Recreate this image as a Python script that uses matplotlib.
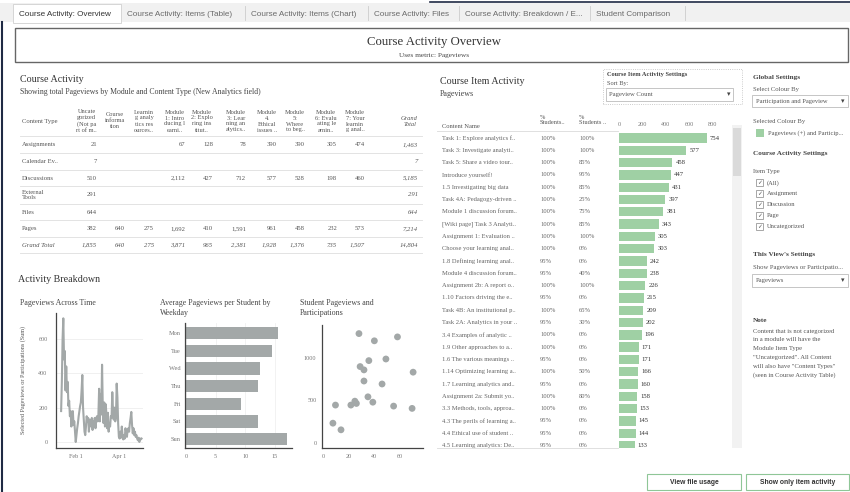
import numpy as np
import matplotlib

matplotlib.use("Agg")
import matplotlib.pyplot as plt
from matplotlib.patches import Rectangle
from matplotlib.lines import Line2D

plt.rcParams["font.family"] = ["Liberation Serif", "DejaVu Sans"]

# ---------------- data ----------------
tab_names = ["Course Activity: Overview", "Course Activity: Items (Table)",
             "Course Activity: Items (Chart)", "Course Activity: Files",
             "Course Activity: Breakdown / E...", "Student Comparison"]

module_headers = ["Uncate\ngorized\n(Not pa\nrt of m..", "Course\ninforma\ntion",
                  "Learnin\ng analy\ntics res\nources..", "Module\n1: Intro\nducing l\nearni..",
                  "Module\n2: Explo\nring ins\ntitut..", "Module\n3: Lear\nning an\nalytics..",
                  "Module\n4.\nEthical\nissues ..", "Module\n5:\nWhere\nto beg..",
                  "Module\n6: Evalu\nating le\narnin..", "Module\n7: Your\nlearnin\ng anal..",
                  "Grand\nTotal"]
content_types = ["Assignments", "Calendar Ev..", "Discussions", "External\nTools",
                 "Files", "Pages", "Grand Total"]
assignments = [21, None, None, 67, 128, 78, 390, 390, 305, 474, 1463]
calendar_events = [7, None, None, None, None, None, None, None, None, None, 7]
discussions = [510, None, None, 2112, 427, 712, 577, 528, 198, 460, 5185]
external_tools = [291, None, None, None, None, None, None, None, None, None, 291]
files = [644, None, None, None, None, None, None, None, None, None, 644]
pages = [382, 640, 275, 1692, 410, 1591, 961, 458, 232, 573, 7214]
grand_total = [1855, 640, 275, 3871, 965, 2381, 1928, 1376, 735, 1507, 14804]

# daily pageviews from 12 Jan
daily_pageviews = [180, 350, 600, 720, 480, 530, 300, 440, 290, 350, 210, 240, 150, 180, 90,
                   170, 180, 100, 120, 60, 0, 40, 80, 110, 150, 180, 210, 230, 300, 390,
                   200, 130, 60, 40, 90, 150, 120, 140, 60, 130, 110, 90, 140, 70, 120,
                   100, 140, 80, 130, 150, 120, 160, 310, 120, 280, 160, 450, 200, 110, 230,
                   90, 220, 160, 80, 170, 60, 110, 90, 150, 140, 290, 180, 130, 200, 120,
                   140, 340, 260, 110, 30, 20, 60, 25, 90, 40, 15, 40, 20, 80, 60,
                   30, 70, 80, 60, 110, 140, 175, 100, 50, 80, 40, 60, 30, 40, 20,
                   10, 25, 0, 20, 15, 20]
time_start = np.datetime64("2021-01-12")
time_tick_dates = [np.datetime64("2021-02-01"), np.datetime64("2021-04-01")]
time_tick_labels = ["Feb 1", "Apr 1"]

weekdays = ["Mon", "Tue", "Wed", "Thu", "Fri", "Sat", "Sun"]
weekday_avg = [15.5, 14.5, 12.5, 12.1, 9.3, 12.1, 17.0]

student_participations = [7.7, 14, 9.7, 21.7, 24.8, 26, 28, 28.9, 31.9, 31.9,
                          35, 35.7, 38.8, 40, 46, 49, 55, 58, 69.4, 70.2]
student_pageviews = [233, 155, 446, 446, 492, 465, 1287, 899, 860, 729,
                     543, 969, 480, 1202, 694, 988, 434, 1248, 407, 833]

item_names = ["Task 1: Explore analytics f..", "Task 3: Investigate analyti..",
              "Task 5: Share a video tour..", "Introduce yourself!",
              "1.5 Investigating big data", "Task 4A: Pedagogy-driven ..",
              "Module 1 discussion forum..", "[Wiki page] Task 3 Analyti..",
              "Assignment 1: Evaluation ..", "Choose your learning anal..",
              "1.8 Defining learning anal..", "Module 4 discussion forum..",
              "Assignment 2b: A report o..", "1.10 Factors driving the e..",
              "Task 4B: An institutional p..", "Task 2A: Analytics in your ..",
              "3.4 Examples of analytic ..", "1.9 Other approaches to a..",
              "1.6 The various meanings ..", "1.14 Optimizing learning a..",
              "1.7 Learning analytics and..", "Assignment 2a: Submit yo..",
              "3.3 Methods, tools, approa..", "4.3 The perils of learning a..",
              "4.4 Ethical use of student ..", "4.5 Learning analytics: De.."]
pct_viewed = [100, 100, 100, 100, 100, 100, 100, 100, 100, 100, 95, 95, 100,
              95, 100, 95, 100, 100, 95, 100, 95, 100, 100, 95, 95, 95]
pct_participated = [100, 100, 85, 95, 85, 25, 75, 85, 100, 0, 0, 40, 100,
                    0, 65, 30, 0, 0, 0, 50, 0, 80, 0, 0, 0, 0]
item_pageviews = [754, 577, 458, 447, 431, 397, 381, 343, 305, 303, 242, 238, 226,
                  215, 209, 202, 196, 171, 171, 166, 160, 158, 153, 145, 144, 133]

item_types = ["(All)", "Assignment", "Discussion", "Page", "Uncategorized"]
note_lines = ["Content that is not categorized", "in a module will have the",
              "Module Item Type", "\"Uncategorized\". All Content",
              "will also have \"Content Types\"", "(seen in Course Activity Table)"]

# ---------------- helpers (pixel layout) ----------------
W, H = 850, 492
GREY = "#a3a8a8"
GREEN = "#9fd0a4"
TXT = "#555555"
fig = plt.figure(figsize=(W / 100, H / 100), dpi=100)


def fx(x):
    return x / W


def fy(y):
    return 1 - y / H


def ptext(x, y, s, **kw):
    kw.setdefault("va", "center")
    kw.setdefault("color", TXT)
    return fig.text(fx(x), fy(y), s, **kw)


def prect(x0, y0, x1, y1, **kw):
    fig.add_artist(Rectangle((fx(x0), fy(y1)), (x1 - x0) / W, (y1 - y0) / H,
                             transform=fig.transFigure, **kw))


def pline(x0, y0, x1, y1, **kw):
    fig.add_artist(Line2D([fx(x0), fx(x1)], [fy(y0), fy(y1)], transform=fig.transFigure, **kw))


def add_ax(x0, y0, x1, y1):
    return fig.add_axes([fx(x0), fy(y1), (x1 - x0) / W, (y1 - y0) / H])


def style_axis(ax):
    for s in ["top", "right"]:
        ax.spines[s].set_visible(False)
    for s in ["left", "bottom"]:
        ax.spines[s].set_color("#444444")
        ax.spines[s].set_linewidth(0.9)
    ax.tick_params(length=0, labelsize=4.4, labelcolor="#777777")


# ---------------- tabs & title ----------------
prect(0, 3, 850, 22, facecolor="#f1f1f1", edgecolor="none")
pline(430, 1.5, 850, 1.5, color="#1f2a44", lw=1.2)
pline(1.5, 22, 1.5, 492, color="#1f2a44", lw=1.5)
tab_edges = [13, 121, 245, 368, 459, 590, 685]
for i, name in enumerate(tab_names):
    if i == 0:
        prect(tab_edges[0], 4, tab_edges[1], 23, facecolor="white", edgecolor="#d0d0d0", lw=0.6)
    else:
        pline(tab_edges[i + 1], 6, tab_edges[i + 1], 20, color="#cccccc", lw=0.6)
    ptext(tab_edges[i] + 6, 14.5, name, family="Liberation Sans", fontsize=5.9,
          color="#333333" if i == 0 else "#6a6a6a")

prect(15, 28, 848, 62, facecolor="white", edgecolor="#666666", lw=1)
ptext(434, 42, "Course Activity Overview", ha="center", fontsize=9.2, color="#333333")
ptext(434, 55, "Uses metric: Pageviews", ha="center", fontsize=5.2, color="#444444")

# ---------------- course activity table ----------------
ptext(20, 80, "Course Activity", fontsize=7.2, color="#333333")
ptext(20, 92, "Showing total Pageviews by Module and Content Type (New Analytics field)",
      fontsize=5.6, color="#444444")
col_x = [97, 125, 154, 185, 213, 246, 277, 305, 337, 365, 418]
ptext(22, 121, "Content Type", fontsize=4.8)
for cx, head in zip(col_x, module_headers):
    italic = head.startswith("Grand")
    ptext(cx, 121, head, ha="right", multialignment="center", fontsize=4.6,
          linespacing=1.25, style="italic" if italic else "normal")

table_rows = [assignments, calendar_events, discussions, external_tools, files, pages, grand_total]
row_y = [144.5, 161.5, 178, 195, 212, 228.5, 245]
for y in [136, 153, 170, 186, 204, 220, 237, 253]:
    pline(20, y, 422, y, color="#e3e3e3", lw=0.7)
for r, (label, vals) in enumerate(zip(content_types, table_rows)):
    last_row = r == len(table_rows) - 1
    ptext(22, row_y[r], label, fontsize=4.8, linespacing=1.2,
          style="italic" if last_row else "normal")
    for c, v in enumerate(vals):
        if v is None:
            continue
        italic = last_row or c == len(vals) - 1
        ptext(col_x[c], row_y[r], f"{v:,}", ha="right", fontsize=4.8,
              style="italic" if italic else "normal")

# ---------------- activity breakdown ----------------
ptext(18, 279, "Activity Breakdown", fontsize=7.2, color="#333333")
ptext(20, 303, "Pageviews Across Time", fontsize=5.7, color="#444444")
ptext(160, 308, "Average Pageviews per Student by\nWeekday", fontsize=5.7,
      color="#444444", linespacing=1.3)
ptext(300, 308, "Student Pageviews and\nParticipations", fontsize=5.7,
      color="#444444", linespacing=1.3)

ax_t = add_ax(56, 313, 143, 448)
dates = time_start + np.arange(len(daily_pageviews))
ax_t.plot(dates, daily_pageviews, color=GREY, lw=1.5, solid_joinstyle="round")
ax_t.set_ylim(-35, 751)
ax_t.set_xlim(time_tick_dates[0] - np.timedelta64(27, "D"),
              time_tick_dates[1] + np.timedelta64(33, "D"))
ax_t.set_yticks([0, 200, 400, 600])
ax_t.set_xticks(time_tick_dates)
ax_t.set_xticklabels(time_tick_labels)
ax_t.grid(axis="y", color="#eeeeee", lw=0.6)
ax_t.set_axisbelow(True)
style_axis(ax_t)
ax_t.tick_params(axis="y", pad=6)
ax_t.tick_params(axis="x", pad=4)
ptext(23, 380, "Selected Pageviews or Participations (Sum)", ha="center", rotation=90,
      fontsize=4.4, color="#555555")

ax_w = add_ax(185, 323, 292, 448)
ax_w.barh(range(len(weekdays)), weekday_avg, height=0.7, color=GREY)
ax_w.set_ylim(6.51, -0.57)
ax_w.set_xlim(-0.17, 17.9)
ax_w.set_yticks(range(len(weekdays)))
ax_w.set_yticklabels(weekdays)
ax_w.set_xticks([0, 5, 10, 15])
ax_w.grid(axis="x", color="#f0f0f0", lw=0.6)
ax_w.set_axisbelow(True)
style_axis(ax_w)
ax_w.tick_params(axis="y", pad=3, labelsize=4.6)
ax_w.tick_params(axis="x", pad=4)

ax_s = add_ax(322, 325, 423, 448)
ax_s.scatter(student_participations, student_pageviews, s=24, color=GREY, edgecolors="none")
ax_s.set_xlim(-0.8, 77.9)
ax_s.set_ylim(-59, 1388)
ax_s.set_xticks([0, 20, 40, 60])
ax_s.set_yticks([0, 500, 1000])
style_axis(ax_s)
ax_s.tick_params(axis="y", pad=4)
ax_s.tick_params(axis="x", pad=4)

# ---------------- course item activity ----------------
ptext(440, 81, "Course Item Activity", fontsize=7.2, color="#333333")
ptext(440, 94, "Pageviews", fontsize=5.8, color="#444444")
prect(603, 69, 742, 104, facecolor="none", edgecolor="#bbbbbb", lw=0.6, linestyle=":")
ptext(607, 74.5, "Course Item Activity Settings", fontsize=4.6, weight="bold", color="#444444")
ptext(607, 83, "Sort By:", fontsize=4.6)
prect(606, 88, 733, 101, facecolor="white", edgecolor="#bbbbbb", lw=0.6)
ptext(609, 94.5, "Pageview Count", fontsize=4.8)
ptext(729, 94.5, "▾", ha="center", fontsize=5, family="DejaVu Sans", color="#444444")

ptext(442, 127, "Content Name", fontsize=4.7)
ptext(540, 120, "%\nStudents..", fontsize=4.6, linespacing=1.2)
ptext(579, 120, "%\nStudents ..", fontsize=4.6, linespacing=1.2)
pline(437, 131, 618, 131, color="#e0e0e0", lw=0.7)
pline(437, 448, 618, 448, color="#e0e0e0", lw=0.7)

ylim_items = (25.2, -0.57)
ax_n = add_ax(437, 131, 618, 448)
ax_n.set_xlim(437, 618)
ax_n.set_ylim(*ylim_items)
ax_n.axis("off")
for i, name in enumerate(item_names):
    ax_n.text(442, i, name, va="center", fontsize=4.7, color="#666666", clip_on=True)
    ax_n.text(540, i, f"{pct_viewed[i]}%", va="center", fontsize=4.7, color="#666666", clip_on=True)
    ax_n.text(579, i, f"{pct_participated[i]}%", va="center", fontsize=4.7, color="#666666",
              clip_on=True)

ax_b = add_ax(619, 131, 730, 448)
ax_b.barh(range(len(item_pageviews)), item_pageviews, height=0.76, color=GREEN)
ax_b.set_xlim(0, 951)
ax_b.set_ylim(*ylim_items)
for i, v in enumerate(item_pageviews):
    ax_b.text(v + 25, i, str(v), va="center", fontsize=4.8, color="#333333", clip_on=True)
ax_b.xaxis.tick_top()
ax_b.set_xticks([0, 200, 400, 600, 800])
ax_b.set_yticks([])
for s in ax_b.spines.values():
    s.set_visible(False)
ax_b.tick_params(length=0, labelsize=4.4, labelcolor="#777777", pad=3)

# scrollbar
prect(732, 125, 742, 448, facecolor="#f2f2f2", edgecolor="none")
prect(733, 128, 741, 176, facecolor="#dadada", edgecolor="none")

# ---------------- right settings panel ----------------
ptext(753, 77, "Global Settings", fontsize=5.2, weight="bold", color="#444444")
ptext(753, 89.5, "Select Colour By", fontsize=4.8)
prect(752, 95, 848, 107, facecolor="white", edgecolor="#bbbbbb", lw=0.6)
ptext(756, 101, "Participation and Pageview", fontsize=4.7)
ptext(843, 101, "▾", ha="center", fontsize=5, family="DejaVu Sans", color="#444444")
ptext(753, 121, "Selected Colour By", fontsize=4.8)
prect(756, 129, 764, 137, facecolor=GREEN, edgecolor="none")
ptext(768, 133, "Pageviews (+) and Particip...", fontsize=4.7)
ptext(753, 154, "Course Activity Settings", fontsize=5.2, weight="bold", color="#444444")
ptext(753, 171, "Item Type", fontsize=4.8)
for k, label in enumerate(item_types):
    yk = 182.7 + 11 * k
    prect(756, yk - 3.5, 763, yk + 3.5, facecolor="white", edgecolor="#999999", lw=0.6)
    ptext(759.5, yk, "✓", ha="center", fontsize=4.2, family="DejaVu Sans", color="#555555")
    ptext(767, yk, label, fontsize=4.7)
ptext(753, 254.5, "This View's Settings", fontsize=5.2, weight="bold", color="#444444")
ptext(753, 267.5, "Show Pageviews or Participatio...", fontsize=4.8)
prect(752, 274, 848, 287, facecolor="white", edgecolor="#bbbbbb", lw=0.6)
ptext(756, 280.5, "Pageviews", fontsize=4.8)
ptext(843, 280.5, "▾", ha="center", fontsize=5, family="DejaVu Sans", color="#444444")
ptext(753, 321, "Note", fontsize=5.2, weight="bold", color="#444444")
for k, line in enumerate(note_lines):
    ptext(753, 331 + 8.8 * k, line, fontsize=4.8)

# ---------------- buttons ----------------
for (x0, x1), label in zip([(647, 741), (746, 849)], ["View file usage", "Show only item activity"]):
    prect(x0, 474, x1, 490, facecolor="white", edgecolor="#8fc697", lw=0.8)
    ptext((x0 + x1) / 2, 482, label, ha="center", fontsize=4.9, weight="bold",
          family="Liberation Sans", color="#333333")

fig.savefig("out.png", dpi=100)
